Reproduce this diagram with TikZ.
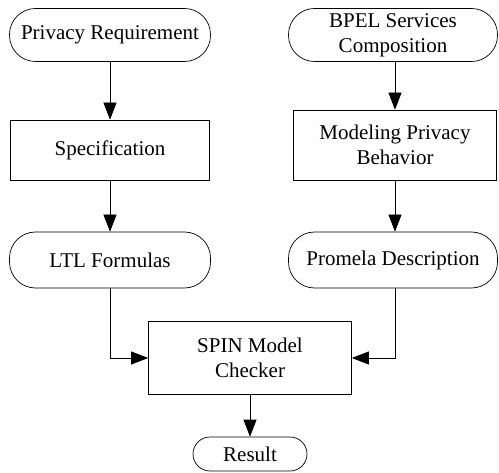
\documentclass[tikz,border=0pt]{standalone}
\usepackage{fontspec}
\setmainfont{Liberation Serif}
\usetikzlibrary{arrows.meta}

\begin{document}
\begin{tikzpicture}[x=1bp,y=-1bp,line width=0.7bp,
    every node/.style={font=\fontsize{21bp}{25bp}\selectfont,align=center,inner sep=0pt},
    term/.style={draw,rounded corners=26bp,minimum height=53bp},
    stepbox/.style={draw,minimum width=201bp},
    flow/.style={-{Triangle[length=17bp,width=13bp]}}]
    \useasboundingbox (0,0) rectangle (499,473);
    \node[term,minimum width=201bp] (req) at (110,35) {Privacy Requirement};
    \node[stepbox,minimum height=60bp,minimum width=199bp] (spec) at (110,150) {Specification};
    \node[term,minimum width=201bp,minimum height=56bp] (ltl) at (110,260) {LTL Formulas};
    \node[term,minimum width=209bp] (bpel) at (393,35) {BPEL Services\\Composition};
    \node[stepbox,minimum height=70bp,minimum width=203bp] (model) at (395,145) {Modeling Privacy\\Behavior};
    \node[term,minimum width=209bp,minimum height=56bp] (prom) at (393,260) {Promela Description};
    \node[stepbox,minimum height=73bp,minimum width=203bp] (spin) at (250,358) {SPIN Model\\Checker};
    \node[term,rounded corners=17bp,minimum width=114bp,minimum height=34bp] (res) at (250,454) {Result};
    \draw[flow] (req) -- (spec);
    \draw[flow] (spec) -- (ltl);
    \draw[flow] (bpel.south -| model.north) -- (model.north);
    \draw[flow] (model) -- (model |- prom.north);
    \draw[flow] (ltl.south) |- (spin.west);
    \draw[flow] ([xshift=2bp]prom.south) |- (spin.east);
    \draw[flow] (spin) -- (res);
\end{tikzpicture}
\end{document}
